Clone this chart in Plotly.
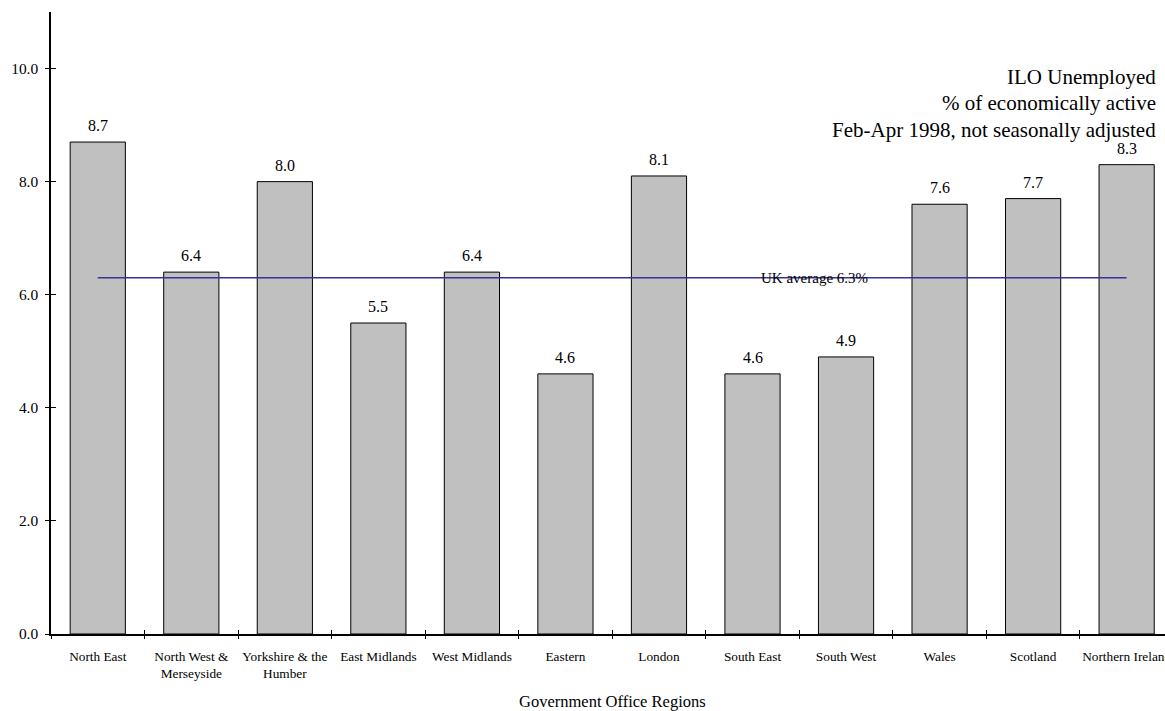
import plotly.graph_objects as go

# ILO unemployment rates by Government Office Region, Feb-Apr 1998
regions = [
    "North East", "North West &<br>Merseyside", "Yorkshire & the<br>Humber",
    "East Midlands", "West Midlands", "Eastern", "London", "South East",
    "South West", "Wales", "Scotland", "Northern Ireland",
]
rates = [8.7, 6.4, 8.0, 5.5, 6.4, 4.6, 8.1, 4.6, 4.9, 7.6, 7.7, 8.3]
uk_average = 6.3
y_ticks = [0, 2, 4, 6, 8, 10]
title_lines = [
    "ILO Unemployed",
    "% of economically active",
    "Feb-Apr 1998, not seasonally adjusted",
]

FONT = "Liberation Serif, Times New Roman, serif"
W, H = 1165, 711
L, T, B = 51, 12, 77
PLOT_H = H - T - B

fig = go.Figure()

fig.add_trace(go.Bar(
    x=regions, y=rates,
    marker=dict(color="#c0c0c0", line=dict(color="black", width=1)),
    hoverinfo="x+y",
))

# UK average reference line across the regions
fig.add_trace(go.Scatter(
    x=[regions[0], regions[-1]], y=[uk_average, uk_average],
    mode="lines", line=dict(color="#33339a", width=1.5),
    hoverinfo="skip",
))

# invisible trace so the overlay axes share the same categories
fig.add_trace(go.Scatter(
    x=regions, y=rates, xaxis="x2", yaxis="y2",
    mode="markers", marker=dict(opacity=0), hoverinfo="skip",
))

annotations = []
for r, v in zip(regions, rates):
    annotations.append(dict(
        x=r, y=v, xref="x", yref="y", text=f"{v:.1f}",
        showarrow=False, yanchor="bottom", yshift=6,
        font=dict(family=FONT, size=16, color="black"),
    ))

annotations.append(dict(
    x=7.66, y=uk_average, xref="x", yref="y",
    text=f"UK average {uk_average}%", showarrow=False,
    xanchor="center", yanchor="middle",
    font=dict(family=FONT, size=15, color="black"),
))

# right-aligned heading block, one annotation per line
for i, line in enumerate(title_lines):
    centre_px = 77 + i * 26.3
    annotations.append(dict(
        x=0.9935, y=(PLOT_H + T - centre_px) / PLOT_H,
        xref="paper", yref="paper", text=line, showarrow=False,
        xanchor="right", yanchor="middle",
        font=dict(family=FONT, size=21, color="black"),
    ))

annotations.append(dict(
    x=0.5036, y=(PLOT_H + T - 701) / PLOT_H, xref="paper", yref="paper",
    text="Government Office Regions", showarrow=False,
    xanchor="center", yanchor="middle",
    font=dict(family=FONT, size=16.5, color="black"),
))

x_range = [-0.5, 11.41]
y_range = [0, 11]

fig.update_layout(
    width=W, height=H,
    margin=dict(l=L, r=0, t=T, b=B, pad=0, autoexpand=False),
    paper_bgcolor="white", plot_bgcolor="white",
    showlegend=False, bargap=0.41,
    font=dict(family=FONT, color="black"),
    annotations=annotations,
    xaxis=dict(
        type="category", range=x_range, tickson="boundaries",
        ticks="outside", ticklen=3, tickcolor="black", tickwidth=1,
        showline=True, linecolor="black", linewidth=1.5,
        showgrid=False, zeroline=False, tickangle=0, automargin=False,
        tickfont=dict(family=FONT, size=13.3, color="black"),
        ticklabelstandoff=9,
    ),
    yaxis=dict(
        range=y_range, tickvals=y_ticks,
        ticktext=[f"{t:.1f}" for t in y_ticks],
        ticks="outside", ticklen=4, tickcolor="black", tickwidth=1,
        showline=True, linecolor="black", linewidth=1.5,
        showgrid=False, zeroline=False, automargin=False,
        tickfont=dict(family=FONT, size=15.4, color="black"),
        ticklabelstandoff=4,
    ),
    xaxis2=dict(
        type="category", range=x_range, tickson="boundaries",
        overlaying="x", matches="x", ticks="inside", ticklen=4,
        tickcolor="black", showticklabels=False, showline=False,
        showgrid=False, zeroline=False, automargin=False,
    ),
    yaxis2=dict(
        range=y_range, tickvals=y_ticks, overlaying="y",
        ticks="inside", ticklen=5, tickcolor="black",
        showticklabels=False, showline=False, showgrid=False,
        zeroline=False, automargin=False,
    ),
)

fig.write_html("out.html")
